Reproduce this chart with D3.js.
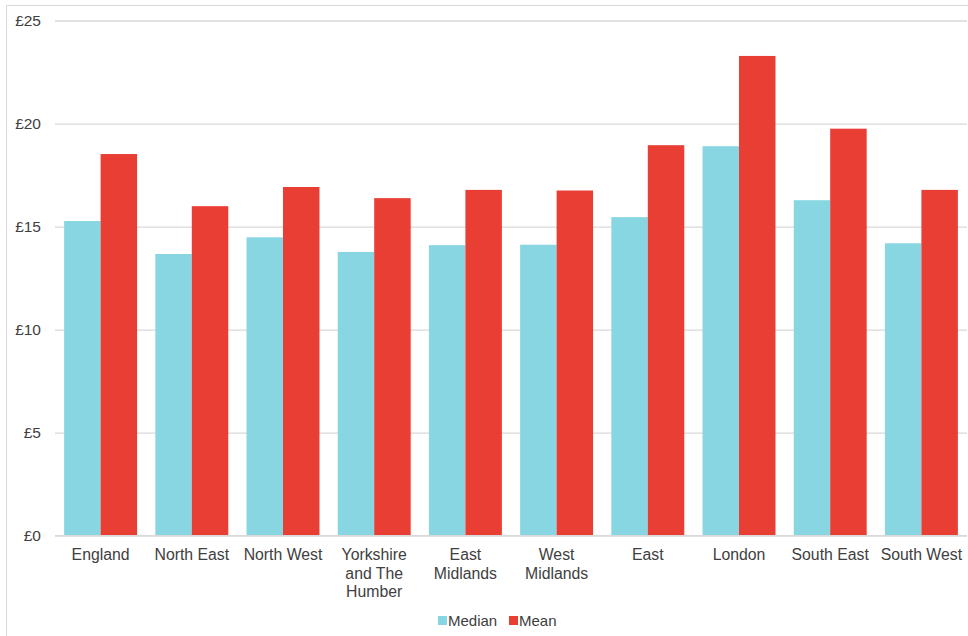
<!DOCTYPE html>
<html>
<head>
<meta charset="utf-8">
<script src="https://cdn.jsdelivr.net/npm/d3@7"></script>
<style>
  html, body { margin: 0; padding: 0; background: #fff; }
  svg { display: block; font-family: "Liberation Sans", Arial, sans-serif; }
</style>
</head>
<body>
<svg id="chart" width="968" height="636"></svg>
<script>
// Hourly pay by region (£)
const regions = [
  ["England"], ["North East"], ["North West"], ["Yorkshire", "and The", "Humber"],
  ["East", "Midlands"], ["West", "Midlands"], ["East"], ["London"],
  ["South East"], ["South West"]
];
const medianPay = [15.27, 13.67, 14.48, 13.77, 14.10, 14.12, 15.46, 18.90, 16.28, 14.19];
const meanPay   = [18.52, 15.99, 16.92, 16.38, 16.78, 16.75, 18.95, 23.28, 19.75, 16.78];
const yTicks = [0, 5, 10, 15, 20, 25];
const seriesNames = ["Median", "Mean"];
const seriesColors = ["#89d6e3", "#e83e33"];

const svg = d3.select("#chart");
const W = 968, H = 636;
const plotLeft = 55, plotRight = 967, plotTop = 20.5, plotBottom = 535.7;

// outer frame
svg.append("rect")
  .attr("x", 6.5).attr("y", 5.5)
  .attr("width", W).attr("height", H)
  .attr("fill", "none").attr("stroke", "#d9d9d9").attr("stroke-width", 1);

const keys = regions.map((d, i) => i);
const x0 = d3.scaleBand().domain(keys).range([plotLeft, plotRight]).paddingInner(0.2).paddingOuter(0.1);
const x1 = d3.scaleBand().domain([0, 1]).range([0, x0.bandwidth()]);
const y = d3.scaleLinear().domain([0, 25]).range([plotBottom, plotTop]);

// gridlines + y labels
const yAxis = d3.axisLeft(y).tickValues(yTicks).tickSize(-(plotRight - plotLeft)).tickFormat(d => "£" + d);
const gy = svg.append("g").attr("transform", `translate(${plotLeft},0)`).call(yAxis);
gy.select(".domain").remove();
gy.selectAll(".tick line").attr("stroke", "#d9d9d9").attr("stroke-width", 1.3);
gy.selectAll(".tick text")
  .attr("x", -14).attr("fill", "#404040")
  .style("font-size", "15.5px");

// bars
const groups = svg.append("g").selectAll("g").data(keys).join("g")
  .attr("transform", d => `translate(${x0(d)},0)`);
groups.selectAll("rect")
  .data(i => [medianPay[i], meanPay[i]].map((v, s) => ({ v, s })))
  .join("rect")
  .attr("x", d => x1(d.s))
  .attr("width", x1.bandwidth())
  .attr("y", d => y(d.v))
  .attr("height", d => y(0) - y(d.v))
  .attr("fill", d => seriesColors[d.s]);

// baseline
svg.append("line")
  .attr("x1", plotLeft).attr("x2", plotRight)
  .attr("y1", y(0)).attr("y2", y(0))
  .attr("stroke", "#d9d9d9").attr("stroke-width", 1.3);

// category labels
const xl = svg.append("g").selectAll("text").data(keys).join("text")
  .attr("x", d => x0(d) + x0.bandwidth() / 2)
  .attr("y", 560)
  .attr("text-anchor", "middle")
  .attr("fill", "#404040")
  .style("font-size", "15.8px");
xl.selectAll("tspan").data(d => regions[d]).join("tspan")
  .attr("x", function () { return d3.select(this.parentNode).attr("x"); })
  .attr("dy", (d, i) => i === 0 ? 0 : 18.5)
  .text(d => d);

// legend
const legend = svg.append("g");
const lx = [438, 509];
seriesNames.forEach((name, i) => {
  legend.append("rect")
    .attr("x", lx[i]).attr("y", 616)
    .attr("width", 9).attr("height", 9)
    .attr("fill", seriesColors[i]);
  legend.append("text")
    .attr("x", lx[i] + 10).attr("y", 626)
    .attr("fill", "#404040")
    .style("font-size", "15px")
    .text(name);
});
</script>
</body>
</html>
